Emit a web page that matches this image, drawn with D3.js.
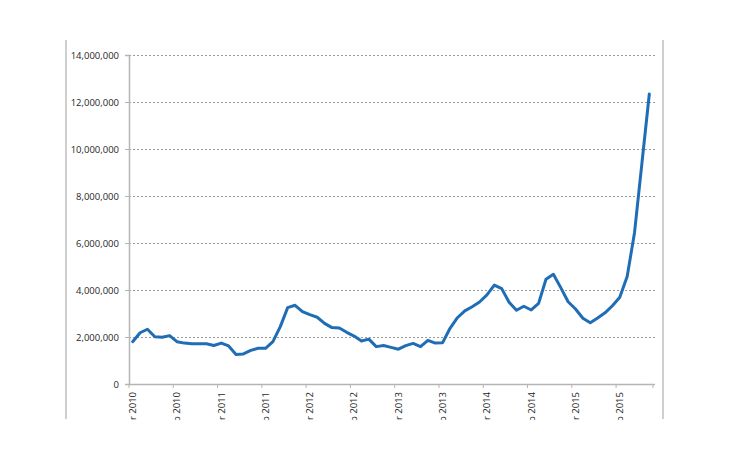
<!DOCTYPE html>
<html>
<head>
<meta charset="utf-8">
<script src="https://cdn.jsdelivr.net/npm/d3@7/dist/d3.min.js"></script>
<style>
  html, body { margin: 0; padding: 0; background: #fff; }
  svg { display: block; }
</style>
</head>
<body>
<svg id="chart" width="730" height="460"></svg>
<script>
// Monthly values (71 points)
const values = [
  1800000, 2180000, 2330000, 2010000, 1990000, 2060000, 1800000, 1740000, 1710000, 1710000,
  1710000, 1640000, 1740000, 1620000, 1260000, 1280000, 1430000, 1520000, 1520000, 1800000,
  2440000, 3250000, 3350000, 3080000, 2950000, 2840000, 2580000, 2400000, 2380000, 2200000,
  2040000, 1830000, 1910000, 1590000, 1640000, 1560000, 1480000, 1630000, 1730000, 1590000,
  1860000, 1740000, 1760000, 2370000, 2820000, 3110000, 3290000, 3490000, 3790000, 4210000,
  4060000, 3480000, 3140000, 3310000, 3150000, 3430000, 4460000, 4670000, 4100000, 3500000,
  3190000, 2800000, 2610000, 2810000, 3030000, 3330000, 3690000, 4570000, 6450000, 9400000,
  12340000
];
// Category indices that carry a tick label (every 6 months)
const labelIndices = [0, 6, 12, 18, 24, 30, 36, 42, 48, 54, 60, 66];
const tickLabels = [
  "Mar 2010", "Sep 2010", "Mar 2011", "Sep 2011", "Mar 2012", "Sep 2012",
  "Mar 2013", "Sep 2013", "Mar 2014", "Sep 2014", "Mar 2015", "Sep 2015"
];
const yTicks = [0, 2000000, 4000000, 6000000, 8000000, 10000000, 12000000, 14000000];

const svg = d3.select("#chart");
const plot = { left: 129, right: 653, top: 55, bottom: 384 };
const font = "'Open Sans', 'Liberation Sans', sans-serif";

const x = d3.scaleBand()
  .domain(d3.range(values.length))
  .range([plot.left, plot.right])
  .paddingInner(0).paddingOuter(0);

const y = d3.scaleLinear()
  .domain([0, 14000000])
  .range([plot.bottom, plot.top]);

// outer frame lines
svg.append("line").attr("x1", 66).attr("x2", 66).attr("y1", 40).attr("y2", 419)
  .attr("stroke", "#cfcfcf").attr("stroke-width", 2);
svg.append("line").attr("x1", 663).attr("x2", 663).attr("y1", 40).attr("y2", 419)
  .attr("stroke", "#cfcfcf").attr("stroke-width", 2);

// gridlines
svg.append("g")
  .selectAll("line")
  .data(yTicks.filter(d => d > 0))
  .join("line")
  .attr("x1", plot.left).attr("x2", 655)
  .attr("y1", d => Math.round(y(d)) + 0.5).attr("y2", d => Math.round(y(d)) + 0.5)
  .attr("stroke", "#9a9a9a")
  .attr("stroke-width", 1)
  .attr("stroke-dasharray", "2,2");

// Y axis
const yAxis = d3.axisLeft(y)
  .tickValues(yTicks)
  .tickSize(4)
  .tickPadding(6)
  .tickFormat(d3.format(","));
const gy = svg.append("g")
  .attr("transform", `translate(${plot.left},0)`)
  .call(yAxis);
gy.select(".domain").attr("stroke", "#b5b5b5").attr("stroke-width", 1.5);
gy.selectAll(".tick line").attr("stroke", "#b5b5b5");
gy.selectAll(".tick text")
  .attr("fill", "#262626")
  .style("font-family", font)
  .style("font-size", "9.5px");

// X axis: ticks at band edges every 6 months
const edgeTicks = labelIndices.map(i => x(i)).concat([plot.right]);
const gx = svg.append("g");
gx.append("line")
  .attr("x1", plot.left).attr("x2", 655)
  .attr("y1", plot.bottom + 0.5).attr("y2", plot.bottom + 0.5)
  .attr("stroke", "#b5b5b5").attr("stroke-width", 1.5);
gx.selectAll("line.tk")
  .data(edgeTicks)
  .join("line")
  .attr("class", "tk")
  .attr("x1", d => d).attr("x2", d => d)
  .attr("y1", plot.bottom).attr("y2", plot.bottom + 4)
  .attr("stroke", "#b5b5b5");

// clip labels like the reference (cut at bottom)
svg.append("defs").append("clipPath").attr("id", "lblclip")
  .append("rect").attr("x", 0).attr("y", 0).attr("width", 730).attr("height", 420);

gx.append("g").attr("clip-path", "url(#lblclip)")
  .selectAll("text")
  .data(labelIndices)
  .join("text")
  .attr("transform", (d) => `translate(${x(d) + x.bandwidth() / 2},${plot.bottom + 8}) rotate(-90)`)
  .attr("text-anchor", "end")
  .attr("dy", "0.35em")
  .attr("fill", "#262626")
  .style("font-family", font)
  .style("font-size", "9.5px")
  .text((d, i) => tickLabels[i]);

// Line
const line = d3.line()
  .x((d, i) => x(i) + x.bandwidth() / 2)
  .y(d => y(d));

svg.append("path")
  .datum(values)
  .attr("fill", "none")
  .attr("stroke", "#1f6db4")
  .attr("stroke-width", 3)
  .attr("stroke-linejoin", "round")
  .attr("stroke-linecap", "round")
  .attr("d", line);
</script>
</body>
</html>
